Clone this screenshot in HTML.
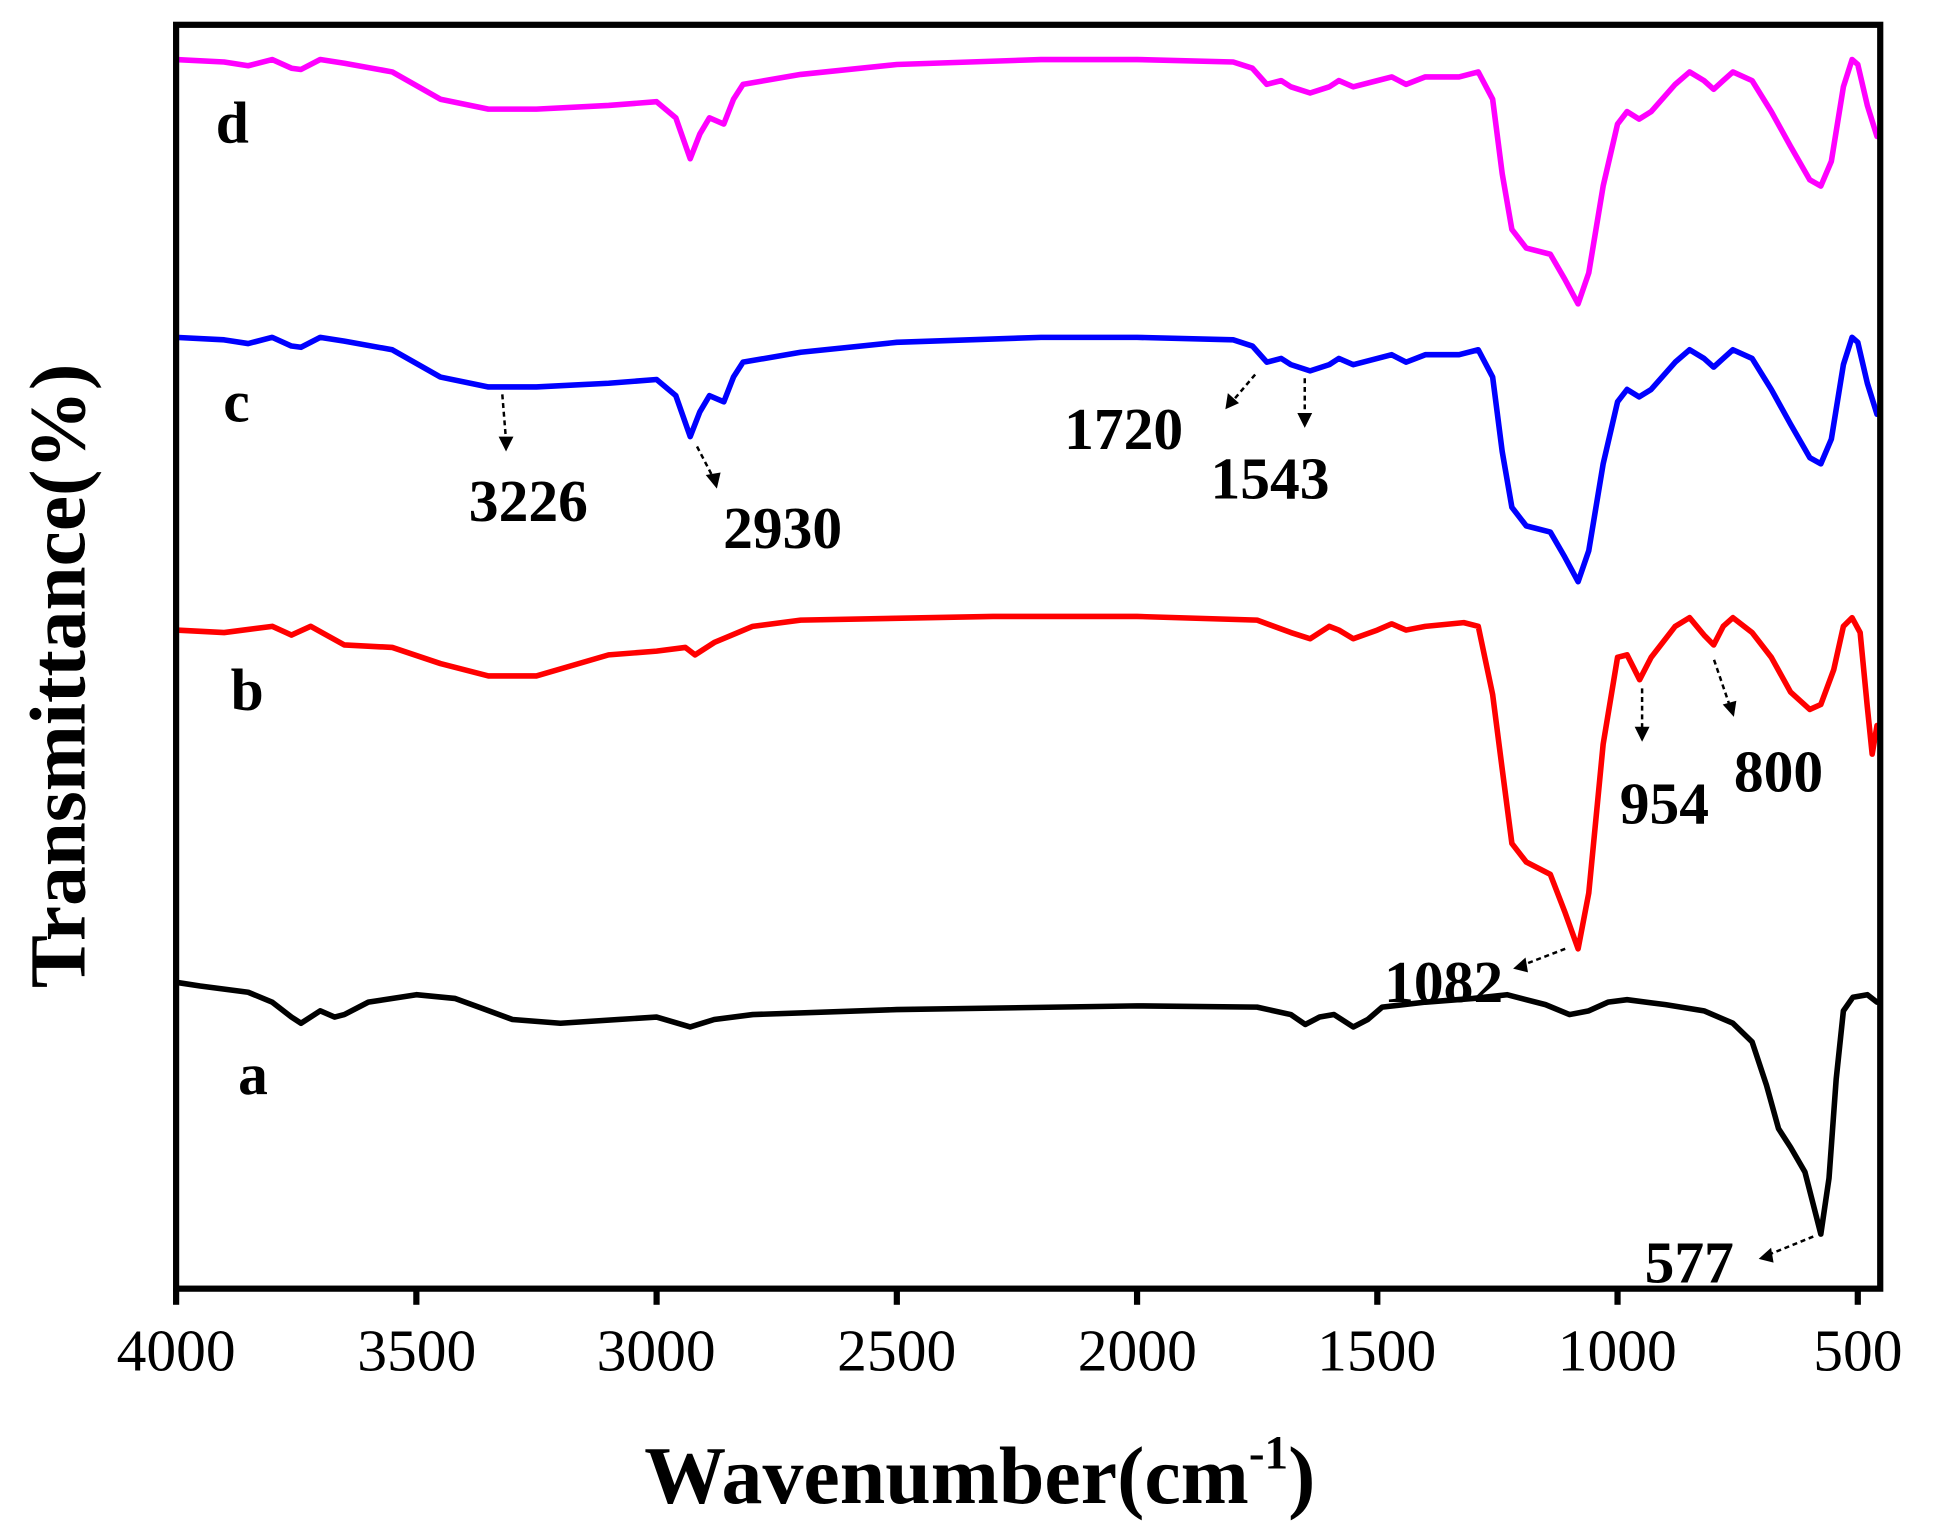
<!DOCTYPE html>
<html><head><meta charset="utf-8"><style>
html,body{margin:0;padding:0;background:#fff;}
svg{display:block;}
text{font-family:"Liberation Serif",serif;}
</style></head><body>
<svg id="s" width="1941" height="1533" viewBox="0 0 1565 1236" preserveAspectRatio="none" xmlns="http://www.w3.org/2000/svg">
<rect x="0" y="0" width="1565" height="1236" fill="#fff"/>
<g id="curves" fill="none" stroke-width="4.5" stroke-linejoin="round" stroke-linecap="round"></g>
<rect x="142" y="20" width="1374" height="1019" fill="none" stroke="#000" stroke-width="5"/>
<g id="ticks" stroke="#000" stroke-width="5"></g>
<g font-size="48" text-anchor="middle" fill="#000">
<text x="142" y="1105">4000</text><text x="336" y="1105">3500</text><text x="529" y="1105">3000</text>
<text x="723" y="1105">2500</text><text x="917" y="1105">2000</text><text x="1110" y="1105">1500</text>
<text x="1304" y="1105">1000</text><text x="1498" y="1105">500</text>
</g>
<text x="790" y="1212" font-size="66" font-weight="bold" text-anchor="middle">Wavenumber(cm<tspan font-size="38" dy="-28">-1</tspan><tspan dy="28">)</tspan></text>
<text transform="translate(68,545) rotate(-90)" font-size="64" font-weight="bold" text-anchor="middle">Transmittance(%)</text>
<g font-size="48" font-weight="bold" fill="#000">
<text x="174" y="115">d</text><text x="180" y="340">c</text><text x="186" y="572">b</text><text x="192" y="882">a</text>
<text x="378" y="420">3226</text><text x="583" y="442">2930</text><text x="858" y="362">1720</text>
<text x="976" y="402">1543</text><text x="1306" y="664">954</text><text x="1398" y="638">800</text>
<text x="1116" y="808">1082</text><text x="1326" y="1034">577</text>
</g>
<g stroke="#000" stroke-width="2" stroke-dasharray="4,3" fill="none">
<line x1="405" y1="318" x2="408" y2="355"/><line x1="562" y1="360" x2="575" y2="385"/>
<line x1="1012" y1="302" x2="995" y2="322"/><line x1="1052" y1="305" x2="1052" y2="336"/>
<line x1="1324" y1="555" x2="1324" y2="590"/><line x1="1382" y1="532" x2="1395" y2="570"/>
<line x1="1262" y1="765" x2="1228" y2="778"/><line x1="1462" y1="997" x2="1425" y2="1012"/>
</g>
<g fill="#000">
<polygon points="402,352 414,352 408,364"/><polygon points="569,383 581,381 578,394"/>
<polygon points="990,317 999,325 988,330"/><polygon points="1046,333 1058,333 1052,345"/>
<polygon points="1318,586 1330,586 1324,598"/><polygon points="1389,568 1400,565 1398,578"/>
<polygon points="1230,772 1232,784 1220,781"/><polygon points="1428,1006 1430,1018 1418,1015"/>
</g>
</svg>
<script>
(function(){
function X(w){return 142+(4000-w)/500*193.7;}
var pink=[[4000,48],[3900,50],[3850,53],[3800,48],[3760,55],[3740,56],[3700,48],[3650,51],[3550,58],[3450,80],[3350,88],[3250,88],[3100,85],[3000,82],[2960,95],[2930,128],[2910,108],[2890,95],[2860,100],[2840,80],[2820,68],[2700,60],[2500,52],[2200,48],[2000,48],[1800,50],[1760,55],[1730,68],[1700,65],[1680,70],[1640,75],[1600,70],[1580,65],[1550,70],[1500,65],[1470,62],[1440,68],[1400,62],[1330,62],[1290,58],[1260,80],[1240,140],[1220,185],[1190,200],[1140,205],[1110,225],[1082,245],[1060,220],[1030,150],[1000,100],[980,90],[955,96],[930,90],[880,68],[850,58],[820,65],[800,72],[780,65],[760,58],[720,65],[680,90],[640,118],[600,145],[577,150],[555,130],[530,70],[512,48],[500,52],[480,85],[460,110]];
var red=[[4000,508],[3900,510],[3800,505],[3760,512],[3720,505],[3650,520],[3550,522],[3450,535],[3350,545],[3250,545],[3100,528],[3000,525],[2940,522],[2920,528],[2880,518],[2800,505],[2700,500],[2300,497],[2000,497],[1750,500],[1680,510],[1640,515],[1600,505],[1580,508],[1550,515],[1500,508],[1470,503],[1440,508],[1400,505],[1320,502],[1290,505],[1260,560],[1240,620],[1220,680],[1190,695],[1140,705],[1110,735],[1082,765],[1060,720],[1030,600],[1000,530],[980,528],[954,548],[930,530],[880,505],[850,498],[820,512],[800,520],[780,505],[760,498],[720,510],[680,530],[640,558],[600,572],[577,568],[550,540],[530,505],[512,498],[495,510],[480,570],[470,608],[460,585]];
var blk=[[4000,792],[3950,795],[3850,800],[3800,808],[3760,820],[3740,825],[3700,815],[3670,820],[3650,818],[3600,808],[3500,802],[3420,805],[3370,812],[3300,822],[3200,825],[3000,820],[2930,828],[2880,822],[2800,818],[2500,814],[2000,811],[1750,812],[1680,818],[1650,826],[1620,820],[1590,818],[1550,828],[1520,822],[1490,812],[1400,808],[1300,805],[1230,802],[1150,810],[1100,818],[1060,815],[1020,808],[980,806],[900,810],[820,815],[760,825],[720,840],[690,875],[665,910],[640,925],[610,945],[590,975],[577,995],[560,950],[545,870],[530,815],[510,804],[480,802],[460,808]];
var blue=pink.map(function(p){return [p[0],p[1]+224];});
var NS="http://www.w3.org/2000/svg";
function path(d,c){var s="";d.forEach(function(p,i){s+=(i?"L":"M")+X(p[0]).toFixed(1)+","+p[1];});
var e=document.createElementNS(NS,"path");e.setAttribute("d",s);e.setAttribute("stroke",c);document.getElementById("curves").appendChild(e);}
path(pink,"#ff00ff");path(blue,"#0000ff");path(red,"#ff0000");path(blk,"#000000");
var t=document.getElementById("ticks");
for(var w=4000;w>=500;w-=500){var l=document.createElementNS(NS,"line");var x=X(w);
l.setAttribute("x1",x);l.setAttribute("x2",x);l.setAttribute("y1",1039);l.setAttribute("y2",1052);t.appendChild(l);}
})();
</script>
</body></html>
